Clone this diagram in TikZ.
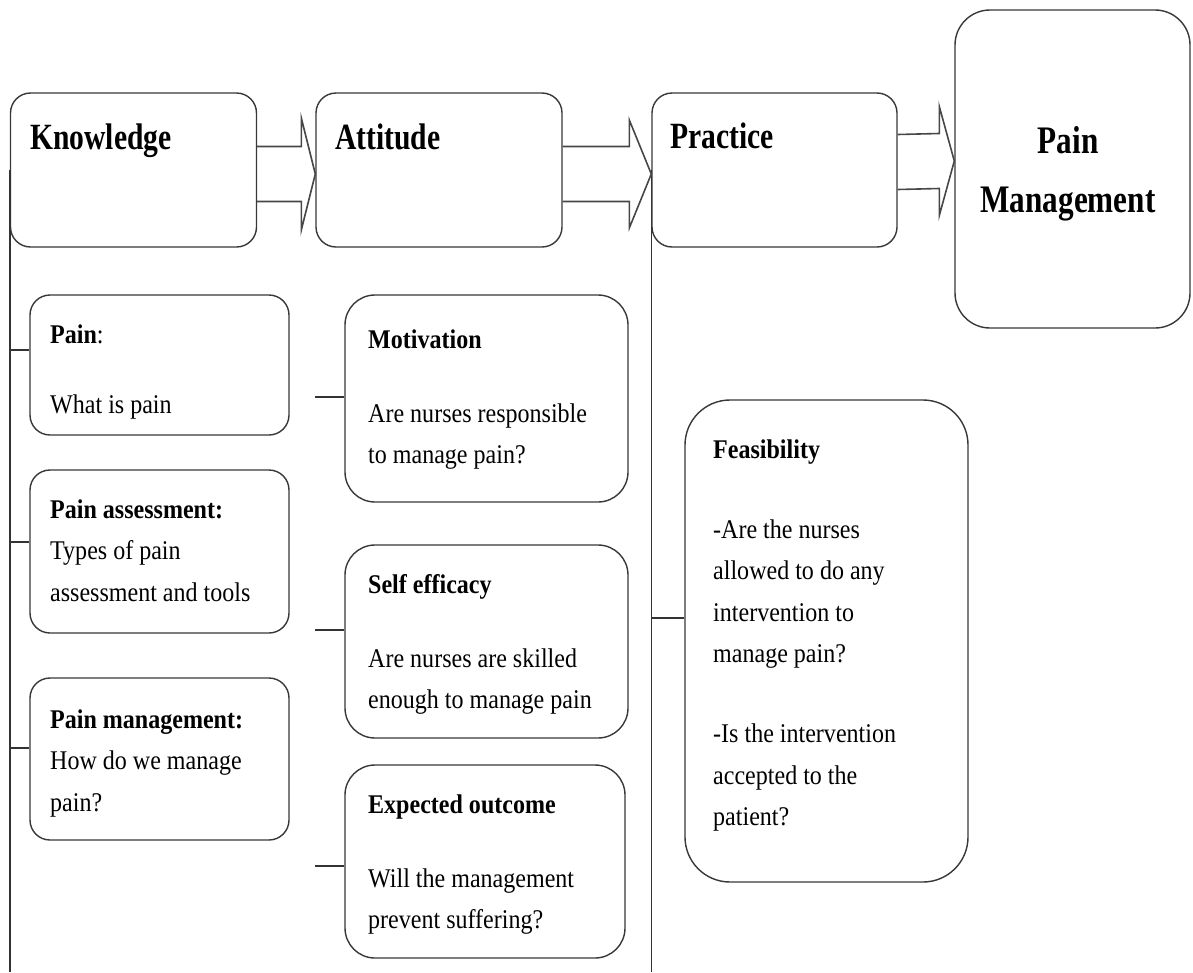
\documentclass[tikz,border=0pt]{standalone}
\usepackage{fontspec}
\setmainfont{Liberation Serif}[FakeStretch=0.89]
\newfontfamily\headfont{Liberation Serif}[FakeStretch=0.8]
\usetikzlibrary{calc}
\newcommand\bodysize{\fontsize{27}{41.5}\selectfont}
\newcommand\headsize{\headfont\bfseries\fontsize{37}{44}\selectfont}
\newcommand\blockarrow[5]{%
  \draw[barrow] ($(#1.east)+(0,#3-27.5)$) -- ($(#2.west)+(-#4,#3-27.5)$)
    -- ($(#2.west)+(-#4,#3-#5)$) -- ($(#2.west)+(0,#3)$)
    -- ($(#2.west)+(-#4,#3+#5)$) -- ($(#2.west)+(-#4,#3+27.5)$)
    -- ($(#1.east)+(0,#3+27.5)$);}
\begin{document}
\begin{tikzpicture}[x=1pt,y=-1pt,
  box/.style={draw=black!78, line width=1.4pt, fill=white, inner sep=0pt},
  txt/.style={anchor=base west, inner sep=0pt},
  tick/.style={draw=black!80, line width=1.6pt},
  barrow/.style={draw=black!72, line width=1.6pt, line join=miter}]
\useasboundingbox (0,0) rectangle (1193,972);
\coordinate (kb) at (0,972);
% main boxes
\node[box, rounded corners=20pt, minimum width=246pt, minimum height=154pt] (know) at (133.5,170) {};
\node[box, rounded corners=20pt, minimum width=246pt, minimum height=154pt] (att) at (439,170) {};
\node[box, rounded corners=20pt, minimum width=245pt, minimum height=154pt] (prac) at (774.5,170) {};
\node[box, rounded corners=35pt, minimum width=235pt, minimum height=318pt] (pm) at (1072.5,169) {};
% sub boxes
\node[box, rounded corners=20pt, minimum width=259pt, minimum height=140pt] (pain) at (159.5,365) {};
\node[box, rounded corners=20pt, minimum width=259pt, minimum height=163pt] (assess) at (159.5,551.5) {};
\node[box, rounded corners=20pt, minimum width=259pt, minimum height=162pt] (pmgmt) at (159.5,759) {};
\node[box, rounded corners=30pt, minimum width=283pt, minimum height=207pt] (mot) at (486.5,398.5) {};
\node[box, rounded corners=30pt, minimum width=283pt, minimum height=193pt] (self) at (486.5,641.5) {};
\node[box, rounded corners=30pt, minimum width=280pt, minimum height=193pt] (expo) at (485,861.5) {};
\node[box, rounded corners=45pt, minimum width=283pt, minimum height=482pt] (feas) at (826.5,641) {};
% vertical lines
\draw[tick] (know.west) -- (know.west |- kb);
\draw[tick] (prac.west) -- (prac.west |- kb);
% ticks
\draw[tick] ([yshift=15pt]pain.west) -- ([yshift=15pt]pain.west -| know.west);
\draw[tick] ([yshift=9.5pt]assess.west) -- ([yshift=9.5pt]assess.west -| know.west);
\draw[tick] ([yshift=11pt]pmgmt.west) -- ([yshift=11pt]pmgmt.west -| know.west);
\draw[tick] ([yshift=1.5pt]mot.west) -- ([yshift=1.5pt]mot.west -| att.west);
\draw[tick] ([yshift=11.5pt]self.west) -- ([yshift=11.5pt]self.west -| att.west);
\draw[tick] ([yshift=-4.5pt]expo.west) -- ([yshift=-4.5pt]expo.west -| att.west);
\draw[tick] ([yshift=23pt]feas.west) -- ([yshift=23pt]feas.west -| prac.west);
% block arrows
\blockarrow{know}{att}{4}{14}{56}
\blockarrow{att}{prac}{4}{22}{54}
\blockarrow{prac}{pm}{-8}{15}{54.5}
% texts
\node[txt] (knowT) at (30,149) {\headsize Knowledge};
\node[txt] (attT) at (335,149) {\headsize Attitude};
\node[txt] (pracT) at (670,148) {\headsize Practice};
\node[anchor=base, inner sep=0pt] (pmT) at (1068,153) {\parbox[t]{220pt}{\centering\headfont\bfseries\fontsize{39}{59}\selectfont Pain\\Management}};
\node[txt] (painT) at (50,343) {\parbox[t]{300pt}{\bodysize\textbf{Pain}:\\[28.5pt]What is pain}};
\node[txt] (assessT) at (50,518) {\parbox[t]{300pt}{\bodysize\textbf{Pain assessment:}\\Types of pain\\assessment and tools}};
\node[txt] (pmgmtT) at (50,728) {\parbox[t]{300pt}{\bodysize\textbf{Pain management:}\\How do we manage\\pain?}};
\node[txt] (motT) at (368,348) {\parbox[t]{300pt}{\bodysize\textbf{Motivation}\\[32.5pt]Are nurses responsible\\to manage pain?}};
\node[txt] (selfT) at (368,593) {\parbox[t]{300pt}{\bodysize\textbf{Self efficacy}\\[32.5pt]Are nurses are skilled\\enough to manage pain}};
\node[txt] (expoT) at (368,813) {\parbox[t]{300pt}{\bodysize\textbf{Expected outcome}\\[32.5pt]Will the management\\prevent suffering?}};
\node[txt] (feasT) at (713,458) {\parbox[t]{300pt}{\bodysize\textbf{Feasibility}\\[38.5pt]-Are the nurses\\allowed to do any\\intervention to\\manage pain?\\[38.5pt]-Is the intervention\\accepted to the\\patient?}};
\end{tikzpicture}
\end{document}
